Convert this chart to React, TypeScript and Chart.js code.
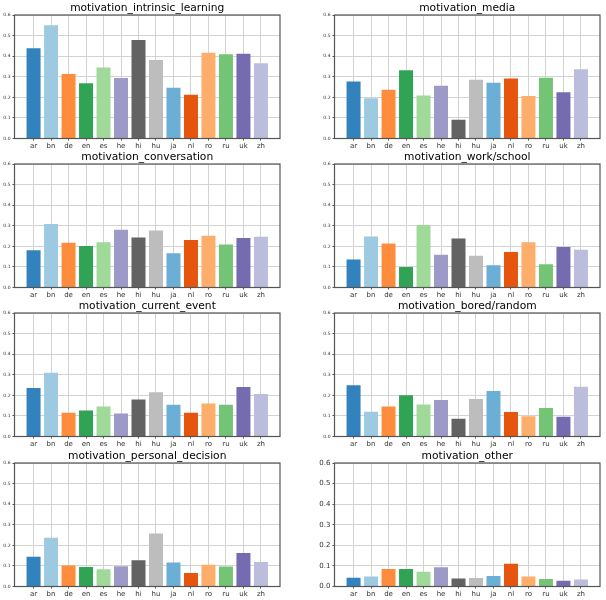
import React, { useEffect, useRef } from "react";
import { Chart, registerables } from "chart.js";

Chart.register(...registerables);

const CATEGORIES = ["ar", "bn", "de", "en", "es", "he", "hi", "hu", "ja", "nl", "ro", "ru", "uk", "zh"];

const intrinsicLearning = [0.438, 0.550, 0.313, 0.268, 0.345, 0.294, 0.478, 0.381, 0.246, 0.212, 0.417, 0.409, 0.412, 0.365];
const media = [0.277, 0.196, 0.237, 0.332, 0.209, 0.256, 0.091, 0.285, 0.271, 0.292, 0.206, 0.295, 0.225, 0.337];
const conversation = [0.181, 0.309, 0.217, 0.202, 0.220, 0.280, 0.243, 0.277, 0.167, 0.231, 0.251, 0.209, 0.241, 0.246];
const workSchool = [0.136, 0.248, 0.214, 0.099, 0.304, 0.159, 0.238, 0.154, 0.108, 0.172, 0.220, 0.113, 0.197, 0.184];
const currentEvent = [0.236, 0.310, 0.115, 0.126, 0.146, 0.112, 0.180, 0.215, 0.154, 0.115, 0.160, 0.154, 0.241, 0.207];
const boredRandom = [0.249, 0.120, 0.146, 0.200, 0.156, 0.177, 0.086, 0.182, 0.221, 0.119, 0.098, 0.138, 0.096, 0.242];
const personalDecision = [0.144, 0.237, 0.102, 0.095, 0.084, 0.098, 0.127, 0.258, 0.116, 0.066, 0.106, 0.097, 0.163, 0.119];
const other = [0.043, 0.049, 0.085, 0.085, 0.072, 0.093, 0.039, 0.041, 0.051, 0.110, 0.049, 0.036, 0.028, 0.034];

const TITLES = [
  "motivation_intrinsic_learning",
  "motivation_media",
  "motivation_conversation",
  "motivation_work/school",
  "motivation_current_event",
  "motivation_bored/random",
  "motivation_personal_decision",
  "motivation_other",
];
const SERIES = [intrinsicLearning, media, conversation, workSchool, currentEvent, boredRandom, personalDecision, other];

const COLORS = [
  "#3182bd", "#9ecae1", "#fd8d3c", "#31a354", "#a1d99b", "#9e9ac8", "#636363",
  "#bdbdbd", "#6baed6", "#e6550d", "#fdae6b", "#74c476", "#756bb1", "#bcbddc",
];

const Y_TICKS_MIN = 0;
const Y_TICKS_MAX = 0.6;
const X_MIN = -1.09;
const X_MAX = 14.09;

// layout constants
const PLOT_TOPS = [15, 164, 313, 463];
const PLOT_LEFTS = [14.5, 334.5];
const PLOT_W = 265.5;
const PLOT_H = 123.5;
const CANVAS_W = 303;
const CANVAS_H = 151;
const TITLE_SPACE = 14;

const frame = {
  id: "frame",
  afterDraw(chart: any) {
    const { ctx, chartArea } = chart;
    const { left, top, right, bottom } = chartArea;
    ctx.save();
    ctx.strokeStyle = "#555";
    ctx.lineWidth = 1.2;
    ctx.strokeRect(left, top, right - left, bottom - top);
    ctx.restore();
  },
};

function Panel({ index }: { index: number }) {
  const ref = useRef<HTMLCanvasElement | null>(null);
  const col = index % 2;
  const row = Math.floor(index / 2);
  const canvasLeft = col * CANVAS_W;
  const canvasTop = PLOT_TOPS[row] - TITLE_SPACE;

  useEffect(() => {
    const yW = PLOT_LEFTS[col] - canvasLeft;
    const padRight = CANVAS_W - yW - PLOT_W;
    const xH = CANVAS_H - TITLE_SPACE - PLOT_H;
    const titleSize = 10.7;
    const titleLH = 1.2;
    const bigY = index === 7;
    const values = SERIES[index];
    const chart = new Chart(ref.current as HTMLCanvasElement, {
      type: "bar",
      data: {
        datasets: [
          {
            data: values.map((v, i) => ({ x: i, y: v })),
            backgroundColor: COLORS,
            borderWidth: 0,
            barPercentage: 0.8,
            categoryPercentage: 1,
          } as any,
        ],
      },
      options: {
        responsive: false,
        animation: false,
        devicePixelRatio: 1,
        layout: { padding: { left: 0, right: padRight, top: 0, bottom: 0 } },
        plugins: {
          legend: { display: false },
          tooltip: { enabled: false },
          title: {
            display: true,
            text: TITLES[index],
            fullSize: false,
            color: "#000",
            font: { family: "DejaVu Sans", size: titleSize, weight: "normal", lineHeight: titleLH },
            padding: { top: TITLE_SPACE - titleSize * titleLH, bottom: 0 },
          },
        },
        scales: {
          x: {
            type: "linear",
            min: X_MIN,
            max: X_MAX,
            offset: false,
            afterBuildTicks: (s: any) => {
              s.ticks = CATEGORIES.map((_, i) => ({ value: i }));
            },
            afterFit: (s: any) => {
              s.height = xH;
            },
            grid: { color: "#d3d3d3", lineWidth: 1, tickColor: "#555", tickLength: 2, offset: false },
            border: { display: false },
            ticks: {
              autoSkip: false,
              maxRotation: 0,
              padding: 1,
              color: "#333",
              font: { family: "DejaVu Sans", size: 7 },
              callback: (v: any) => CATEGORIES[Number(v)] ?? "",
            },
          },
          y: {
            min: Y_TICKS_MIN,
            max: Y_TICKS_MAX,
            afterFit: (s: any) => {
              s.width = yW;
            },
            grid: { color: "#d3d3d3", lineWidth: 1, tickColor: "#555", tickLength: 2 },
            border: { display: false },
            ticks: {
              stepSize: 0.1,
              padding: 2,
              color: "#333",
              font: { family: "DejaVu Sans", size: bigY ? 7 : 4.5 },
              callback: (v: any) => Number(v).toFixed(1),
            },
          },
        },
      } as any,
      plugins: [frame],
    });
    return () => chart.destroy();
  }, []);

  return (
    <canvas
      ref={ref}
      width={CANVAS_W}
      height={CANVAS_H}
      style={{ position: "absolute", left: canvasLeft, top: canvasTop, width: CANVAS_W, height: CANVAS_H }}
    />
  );
}

export default function App() {
  return (
    <div style={{ position: "absolute", left: 0, top: 0, width: 606, height: 600, background: "#fff", overflow: "hidden" }}>
      {TITLES.map((_, i) => (
        <Panel key={i} index={i} />
      ))}
    </div>
  );
}
